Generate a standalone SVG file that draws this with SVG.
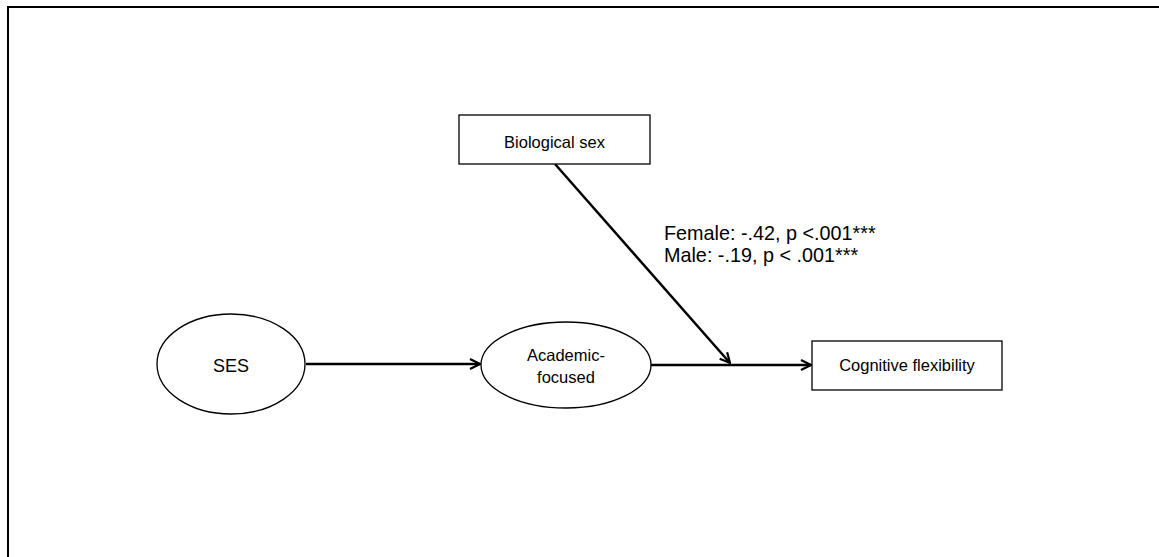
<svg xmlns="http://www.w3.org/2000/svg" width="1159" height="557" viewBox="0 0 1159 557">
<style>
.frame{fill:none;stroke:#000;stroke-width:2}
.node{fill:#fff;stroke:#000;stroke-width:1.3}
.conn{fill:none;stroke:#000;stroke-width:2.5}
text{font-family:"Liberation Sans",Arial,sans-serif;fill:#000}
.lbl{font-size:16.5px;text-anchor:middle}
.big{font-size:18px;text-anchor:middle}
.coef{font-size:19.8px}
</style>
<defs>
<marker id="arr" viewBox="0 0 12 12" refX="11" refY="6" markerWidth="12" markerHeight="12" markerUnits="userSpaceOnUse" orient="auto">
<path d="M1,1 L11,6 L1,11" fill="none" stroke="#000" stroke-width="2.2"/>
</marker>
</defs>
<rect width="1159" height="557" fill="#fff"/>
<path class="frame" d="M8,560 L8,7 L1165,7"/>
<g id="connectors">
<line class="conn" x1="306" y1="364" x2="480" y2="364" marker-end="url(#arr)"/>
<line class="conn" x1="651" y1="365" x2="811" y2="365" marker-end="url(#arr)"/>
<line class="conn" x1="555" y1="164" x2="730" y2="363" marker-end="url(#arr)"/>
</g>
<g id="ses">
<ellipse class="node" cx="231" cy="364" rx="74" ry="50"/>
<text class="big" x="231" y="372">SES</text>
</g>
<g id="academic">
<ellipse class="node" cx="566" cy="365" rx="85" ry="43"/>
<text class="lbl" x="566" y="361">Academic-</text>
<text class="lbl" x="566" y="383">focused</text>
</g>
<g id="biosex">
<rect class="node" x="459" y="115" width="191" height="49"/>
<text class="lbl" x="554.5" y="148">Biological sex</text>
</g>
<g id="cogflex">
<rect class="node" x="812" y="341" width="190" height="49"/>
<text class="lbl" x="907" y="371">Cognitive flexibility</text>
</g>
<g id="coef-label">
<text class="coef" x="664" y="240">Female: -.42, p &lt;.001***</text>
<text class="coef" x="664" y="262">Male: -.19, p &lt; .001***</text>
</g>
</svg>
